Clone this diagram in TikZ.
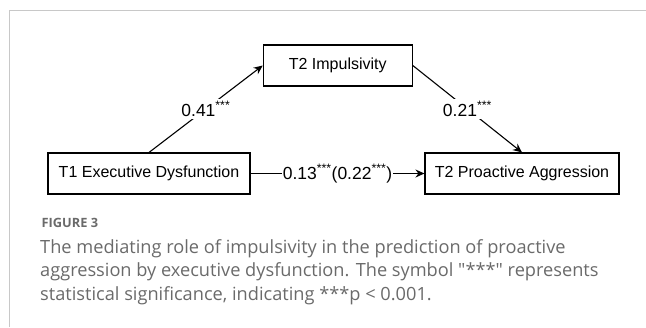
\documentclass[tikz,border=0pt]{standalone}
\usepackage{fontspec}
\setmainfont{Liberation Sans}
\newfontfamily\capfont{Open Sans}
\usetikzlibrary{arrows.meta}

\definecolor{framegray}{HTML}{C8C8C8}
\definecolor{capgray}{HTML}{6A6A6A}

\tikzset{
  box/.style={draw=black, line width=1.1bp, minimum height=41bp, inner sep=0pt,
    font=\fontsize{16bp}{19bp}\selectfont},
  lbl/.style={fill=white, inner sep=3bp, font=\fontsize{17.5bp}{20bp}\selectfont},
  arr/.style={-{Stealth[length=9bp,width=8bp]}, line width=1.1bp},
  captxt/.style={anchor=base west, inner sep=0pt, text=capgray,
    font=\capfont\fontsize{18.2bp}{22bp}\selectfont},
}

\newcommand{\sig}{\textsuperscript{***}}

\begin{document}
\begin{tikzpicture}[x=1bp,y=-1bp]
  \useasboundingbox (0,0) rectangle (646,327);

  % 边框
  \draw[framegray, line width=1bp] (9.5,327) |- (646,10.5);

  % 方框
  \node[box, minimum width=202bp] (exec) at (149,173.5) {T1 Executive Dysfunction};
  \node[box, minimum width=149bp] (impul) at (337.75,65.5) {T2 Impulsivity};
  \node[box, minimum width=194bp] (proag) at (522,173.5) {T2 Proactive Aggression};

  % 路径
  \draw[arr] (exec.north) -- node[lbl] {0.41\sig} (impul.west);
  \draw[arr] (impul.east) -- node[lbl] {0.21\sig} (proag.north);
  \draw[arr] (exec.east) -- node[lbl, inner sep=1bp] {0.13\sig(0.22\sig)} (proag.west);

  % 图注
  \node[anchor=base west, inner sep=0pt, text=capgray,
    font=\capfont\bfseries\fontsize{12.8bp}{14bp}\selectfont] (fig) at (41.5,227.5) {FIGURE 3};
  \node[captxt] (cap1) at (40,253) {The mediating role of impulsivity in the prediction of proactive};
  \node[captxt] (cap2) at (40,276.5) {aggression by executive dysfunction. The symbol "***" represents};
  \node[captxt] (cap3) at (40,300) {statistical significance, indicating ***p < 0.001.};
\end{tikzpicture}
\end{document}
